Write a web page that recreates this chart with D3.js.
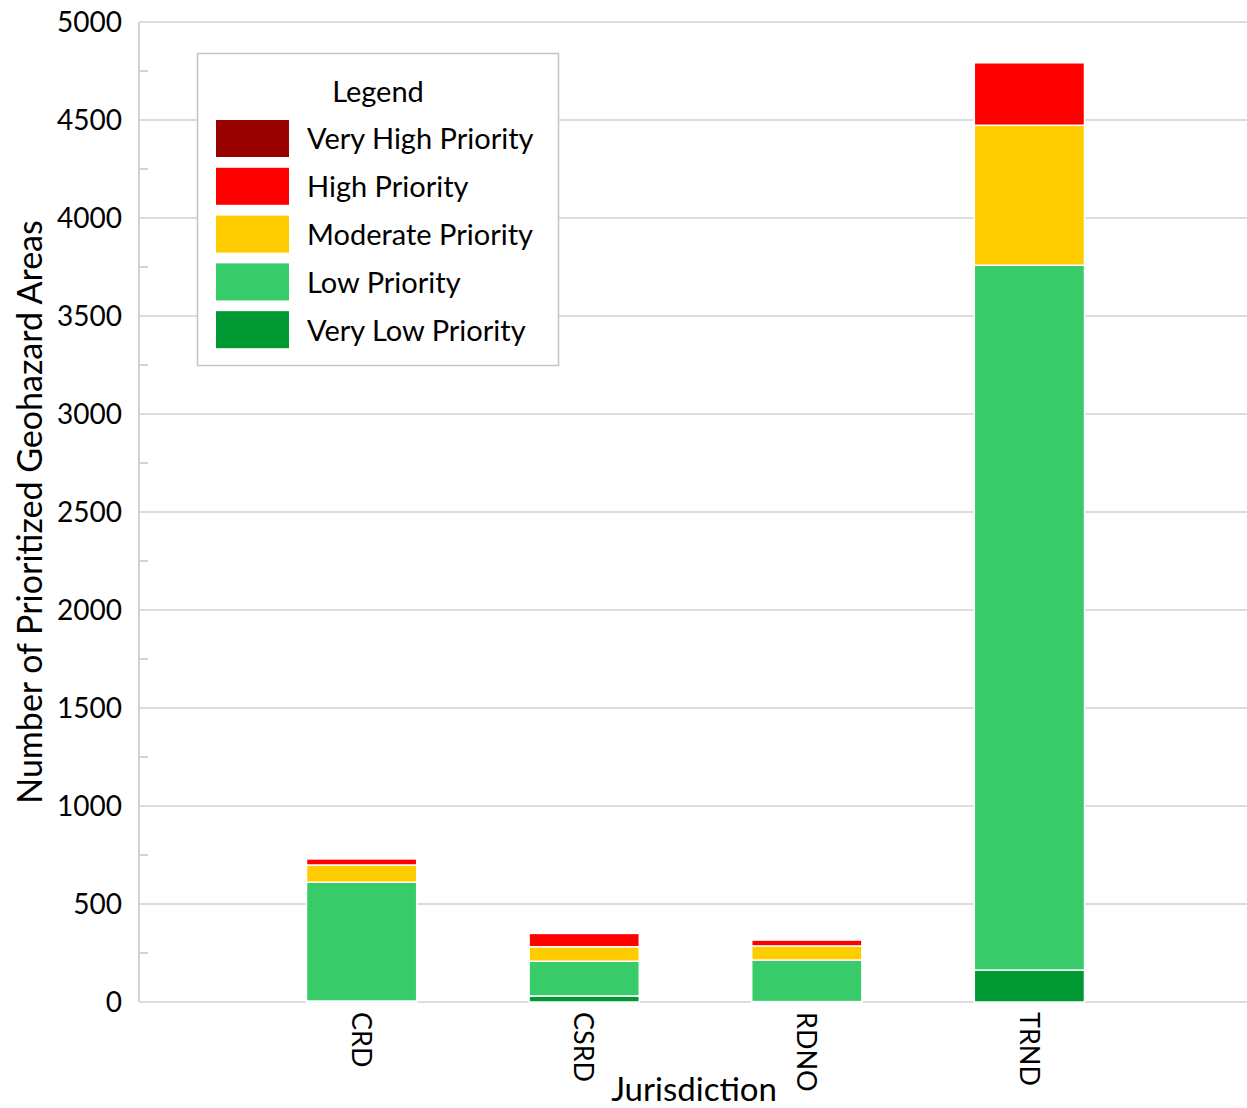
<!DOCTYPE html>
<html>
<head>
<meta charset="utf-8">
<script src="https://cdn.jsdelivr.net/npm/d3@7"></script>
<style>
  html, body { margin: 0; padding: 0; background: #fff; }
  svg { display: block; font-family: "Lato", "Open Sans", sans-serif; }
</style>
</head>
<body>
<svg id="chart" width="1247" height="1108"></svg>
<script>
// Jurisdictions along the x axis
const jurisdictions = ["CRD", "CSRD", "RDNO", "TRND"];

// Priority classes, stacked bottom to top
const priorities = ["Very Low Priority", "Low Priority", "Moderate Priority", "High Priority", "Very High Priority"];
const priorityColors = ["#009933", "#37cb69", "#ffcc00", "#ff0000", "#990000"];

// Number of prioritized geohazard areas per class, one value per jurisdiction
const veryLow  = [5, 31, 2, 163];
const low      = [606, 177, 212, 3596];
const moderate = [88, 74, 72, 714];
const high     = [31, 68, 30, 319];
const veryHigh = [0, 0, 0, 0];

// Axis ticks
const yTicks = [0, 500, 1000, 1500, 2000, 2500, 3000, 3500, 4000, 4500, 5000];
const yMinorTicks = [250, 750, 1250, 1750, 2250, 2750, 3250, 3750, 4250, 4750];

const rows = jurisdictions.map((j, i) => ({
  jurisdiction: j,
  "Very Low Priority": veryLow[i],
  "Low Priority": low[i],
  "Moderate Priority": moderate[i],
  "High Priority": high[i],
  "Very High Priority": veryHigh[i]
}));

const svg = d3.select("#chart");
const plotLeft = 139, plotRight = 1252, plotTop = 22, plotBottom = 1002;
const step = (plotRight - plotLeft) / 5;

const x = d3.scaleBand()
  .domain(jurisdictions)
  .range([plotLeft + step / 2, plotLeft + step * 4.5])
  .paddingInner(0.505)
  .paddingOuter(0.2525);

const y = d3.scaleLinear().domain([0, 5000]).range([plotBottom, plotTop]);
const color = d3.scaleOrdinal().domain(priorities).range(priorityColors);

// Gridlines
svg.append("g")
  .selectAll("line")
  .data(yTicks)
  .join("line")
  .attr("x1", plotLeft).attr("x2", 1247)
  .attr("y1", d => y(d)).attr("y2", d => y(d))
  .attr("stroke", "#d0d0d0")
  .attr("stroke-width", 1.6);

// Y axis line with inner minor ticks
svg.append("line")
  .attr("x1", plotLeft).attr("x2", plotLeft)
  .attr("y1", y(5000)).attr("y2", y(0))
  .attr("stroke", "#c8c8c8").attr("stroke-width", 1.6);

svg.append("g")
  .selectAll("line")
  .data(yMinorTicks)
  .join("line")
  .attr("x1", plotLeft).attr("x2", plotLeft + 9)
  .attr("y1", d => y(d)).attr("y2", d => y(d))
  .attr("stroke", "#c8c8c8").attr("stroke-width", 1.6);

// Y tick labels
svg.append("g")
  .selectAll("text")
  .data(yTicks)
  .join("text")
  .attr("x", 122)
  .attr("y", d => y(d))
  .attr("dy", "0.36em")
  .attr("text-anchor", "end")
  .attr("font-size", 28)
  .attr("fill", "#000")
  .text(d => d);

// Stacked bars
const series = d3.stack().keys(priorities)(rows);

svg.append("g")
  .selectAll("g")
  .data(series)
  .join("g")
  .attr("fill", d => color(d.key))
  .selectAll("rect")
  .data(d => d.filter(s => s[1] - s[0] > 0))
  .join("rect")
  .attr("x", d => x(d.data.jurisdiction))
  .attr("width", x.bandwidth())
  .attr("y", d => y(d[1]))
  .attr("height", d => y(d[0]) - y(d[1]))
  .attr("stroke", "#fff")
  .attr("stroke-width", 1.5);

// Category labels, rotated to read downward
svg.append("g")
  .selectAll("text")
  .data(jurisdictions)
  .join("text")
  .attr("transform", d => `translate(${x(d) + x.bandwidth() / 2},${1012}) rotate(90)`)
  .attr("dy", "0.36em")
  .attr("text-anchor", "start")
  .attr("font-size", 27)
  .text(d => d);

// Axis titles
svg.append("text")
  .attr("x", 694).attr("y", 1101)
  .attr("text-anchor", "middle")
  .attr("font-size", 33)
  .text("Jurisdiction");

svg.append("text")
  .attr("transform", "translate(42,512) rotate(-90)")
  .attr("text-anchor", "middle")
  .attr("font-size", 34)
  .text("Number of Prioritized Geohazard Areas");

// Legend
const legend = svg.append("g");
legend.append("rect")
  .attr("x", 197.5).attr("y", 53.5)
  .attr("width", 361).attr("height", 312)
  .attr("fill", "#fff")
  .attr("stroke", "#c4c4c4").attr("stroke-width", 1.5);

legend.append("text")
  .attr("x", 378).attr("y", 92)
  .attr("dy", "0.36em")
  .attr("text-anchor", "middle")
  .attr("font-size", 29)
  .text("Legend");

const legendOrder = priorities.slice().reverse();
const item = legend.selectAll("g.item")
  .data(legendOrder)
  .join("g")
  .attr("class", "item")
  .attr("transform", (d, i) => `translate(0,${120 + i * 47.8})`);

item.append("rect")
  .attr("x", 216).attr("y", 0)
  .attr("width", 73).attr("height", 37)
  .attr("fill", d => color(d));

item.append("text")
  .attr("x", 307).attr("y", 19)
  .attr("dy", "0.36em")
  .attr("font-size", 29)
  .text(d => d);
</script>
</body>
</html>
